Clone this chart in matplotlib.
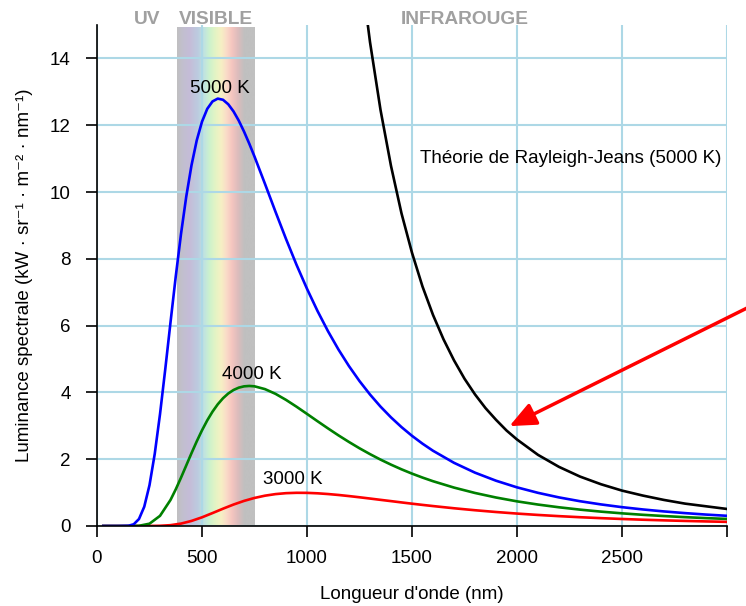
import numpy as np
import matplotlib
matplotlib.use("Agg")
import matplotlib.pyplot as plt
from matplotlib.colors import to_rgb

plt.rcParams['font.family'] = ['Liberation Sans', 'DejaVu Sans']

# Spectral radiance of a black body (kW · sr^-1 · m^-2 · nm^-1) versus wavelength (nm)
wl_5000 = [30, 100, 150, 175, 200, 225, 250, 275, 300, 325, 350, 375, 400, 425, 450,
           475, 500, 525, 550, 575, 600, 625, 650, 675, 700, 725, 750, 800, 850, 900,
           950, 1000, 1050, 1100, 1150, 1200, 1250, 1300, 1350, 1400, 1450, 1500, 1550,
           1600, 1700, 1800, 1900, 2000, 2100, 2200, 2300, 2400, 2500, 2600, 2700, 2800,
           2900, 3000]
lum_5000 = [0, 0.0, 0.007, 0.052, 0.210, 0.577, 1.223, 2.162, 3.347, 4.691, 6.096, 7.471,
            8.743, 9.862, 10.800, 11.547, 12.106, 12.490, 12.712, 12.796, 12.761, 12.627,
            12.414, 12.138, 11.811, 11.449, 11.061, 10.242, 9.408, 8.595, 7.822, 7.102,
            6.438, 5.832, 5.282, 4.786, 4.339, 3.937, 3.575, 3.252, 2.961, 2.700, 2.465,
            2.253, 1.892, 1.597, 1.356, 1.157, 0.993, 0.856, 0.742, 0.646, 0.564, 0.495,
            0.436, 0.386, 0.342, 0.305]

wl_4000 = [30, 150, 200, 250, 300, 350, 375, 400, 425, 450, 475, 500, 525, 550, 575, 600,
           625, 650, 675, 700, 725, 750, 800, 850, 900, 950, 1000, 1050, 1100, 1150, 1200,
           1250, 1300, 1350, 1400, 1450, 1500, 1550, 1600, 1700, 1800, 1900, 2000, 2100,
           2200, 2300, 2400, 2500, 2600, 2700, 2800, 2900, 3000]
lum_4000 = [0, 0.0, 0.006, 0.069, 0.304, 0.780, 1.097, 1.447, 1.813, 2.181, 2.535, 2.865,
            3.163, 3.423, 3.644, 3.825, 3.967, 4.072, 4.142, 4.181, 4.193, 4.182, 4.098,
            3.957, 3.776, 3.572, 3.356, 3.137, 2.922, 2.713, 2.515, 2.327, 2.152, 1.988,
            1.837, 1.697, 1.568, 1.450, 1.341, 1.150, 0.989, 0.853, 0.738, 0.642, 0.560,
            0.490, 0.430, 0.379, 0.335, 0.298, 0.265, 0.236, 0.212]

wl_3000 = [30, 200, 250, 300, 350, 400, 450, 500, 550, 600, 650, 700, 750, 800, 850, 900,
           950, 1000, 1050, 1100, 1150, 1200, 1250, 1300, 1350, 1400, 1450, 1500, 1550,
           1600, 1700, 1800, 1900, 2000, 2100, 2200, 2300, 2400, 2500, 2600, 2700, 2800,
           2900, 3000]
lum_3000 = [0, 0.0, 0.001, 0.006, 0.025, 0.072, 0.152, 0.260, 0.387, 0.518, 0.642, 0.751,
            0.840, 0.908, 0.955, 0.983, 0.994, 0.992, 0.979, 0.957, 0.929, 0.896, 0.860,
            0.822, 0.783, 0.745, 0.706, 0.668, 0.632, 0.597, 0.531, 0.472, 0.419, 0.372,
            0.331, 0.295, 0.263, 0.235, 0.210, 0.188, 0.169, 0.152, 0.137, 0.124]

# Rayleigh-Jeans law at 5000 K
wl_rj = [1250, 1300, 1350, 1400, 1450, 1500, 1550, 1600, 1650, 1700, 1750, 1800, 1850,
         1900, 1950, 2000, 2100, 2200, 2300, 2400, 2500, 2600, 2700, 2800, 2900, 3000]
lum_rj = [16.95, 14.49, 12.46, 10.78, 9.36, 8.18, 7.17, 6.32, 5.59, 4.96, 4.41, 3.94, 3.53,
          3.18, 2.86, 2.59, 2.13, 1.77, 1.48, 1.25, 1.06, 0.91, 0.78, 0.67, 0.59, 0.51]

visible_range = (380, 750)
x_ticks = [0, 500, 1000, 1500, 2000, 2500, 3000]
x_tick_labels = ["0", "500", "1000", "1500", "2000", "2500", ""]
y_ticks = [0, 2, 4, 6, 8, 10, 12, 14]

# Pastel spectrum for the visible band, fading to grey at both ends
band_stops = [(380, "#c0c0c0"), (410, "#c2bfd0"), (440, "#c5bcd8"), (480, "#bccce0"),
              (510, "#c0e4e0"), (535, "#cdf2cc"), (565, "#e6f4c4"), (590, "#f6f0c4"),
              (615, "#fadcc8"), (640, "#f6c6c0"), (670, "#dcbcbc"), (700, "#c0c0c0"),
              (750, "#c0c0c0")]

fig = plt.figure(figsize=(7.46, 6.06), dpi=100)
ax = fig.add_axes([97 / 746, 80 / 606, 630 / 746, 501 / 606])

ax.set_xlim(0, 3000)
ax.set_ylim(0, 15)

# Visible band
xs = np.linspace(visible_range[0], visible_range[1], 400)
stop_x = [s[0] for s in band_stops]
stop_rgb = np.array([to_rgb(s[1]) for s in band_stops])
rgb = np.stack([np.interp(xs, stop_x, stop_rgb[:, k]) for k in range(3)], axis=-1)
ax.imshow(rgb[np.newaxis, :, :], extent=(visible_range[0], visible_range[1], 0, 14.93),
          aspect='auto', interpolation='bilinear', zorder=0)

ax.set_axisbelow(True)
ax.grid(True, color='#add8e6', lw=1.5)
ax.set_xticks(x_ticks)
ax.set_xticklabels(x_tick_labels)
ax.set_yticks(y_ticks)

ax.plot(wl_3000, lum_3000, color='#ff0000', lw=1.9, zorder=3)
ax.plot(wl_4000, lum_4000, color='#008000', lw=1.9, zorder=3)
ax.plot(wl_5000, lum_5000, color='#0000ff', lw=1.9, zorder=3)
ax.plot(wl_rj, lum_rj, color='black', lw=1.9, zorder=3)

for side in ('top', 'right'):
    ax.spines[side].set_visible(False)
for side in ('left', 'bottom'):
    ax.spines[side].set_linewidth(1.2)
    ax.spines[side].set_zorder(4)

ax.tick_params(axis='both', direction='out', length=8, width=1.2, labelsize=13.5,
               colors='black')
ax.tick_params(axis='x', pad=9)
ax.tick_params(axis='y', pad=11)

ax.set_xlabel("Longueur d'onde (nm)", fontsize=13.5, labelpad=14)
ax.set_ylabel("Luminance spectrale (kW · sr⁻¹ · m⁻² · nm⁻¹)", fontsize=13.5, labelpad=12)

# Curve labels
ax.text(584, 13.1, "5000 K", fontsize=13.5, ha='center', va='center', zorder=5)
ax.text(736, 4.54, "4000 K", fontsize=13.5, ha='center', va='center', zorder=5)
ax.text(933, 1.39, "3000 K", fontsize=13.5, ha='center', va='center', zorder=5)
ax.text(2975, 11.0, "Théorie de Rayleigh-Jeans (5000 K)", fontsize=13.5,
        ha='right', va='center', zorder=5)

# Spectral region headers above the plot
for label, xpos in (("UV", 239), ("VISIBLE", 565), ("INFRAROUGE", 1749)):
    ax.annotate(label, xy=(xpos, 1.0), xycoords=('data', 'axes fraction'),
                xytext=(0, 1), textcoords='offset points', ha='center', va='baseline',
                fontsize=13.8, fontweight='bold', color='#a0a0a0', annotation_clip=False)

# Arrow pointing at the Rayleigh-Jeans curve
ax.annotate('', xy=(1964, 2.99), xytext=(3330, 7.26),
            arrowprops=dict(arrowstyle='-|>,head_length=0.8,head_width=0.35',
                            color='#ff0000', lw=2.5, mutation_scale=20,
                            shrinkA=0, shrinkB=0),
            annotation_clip=False, zorder=6)

fig.savefig("out.png", dpi=100)
